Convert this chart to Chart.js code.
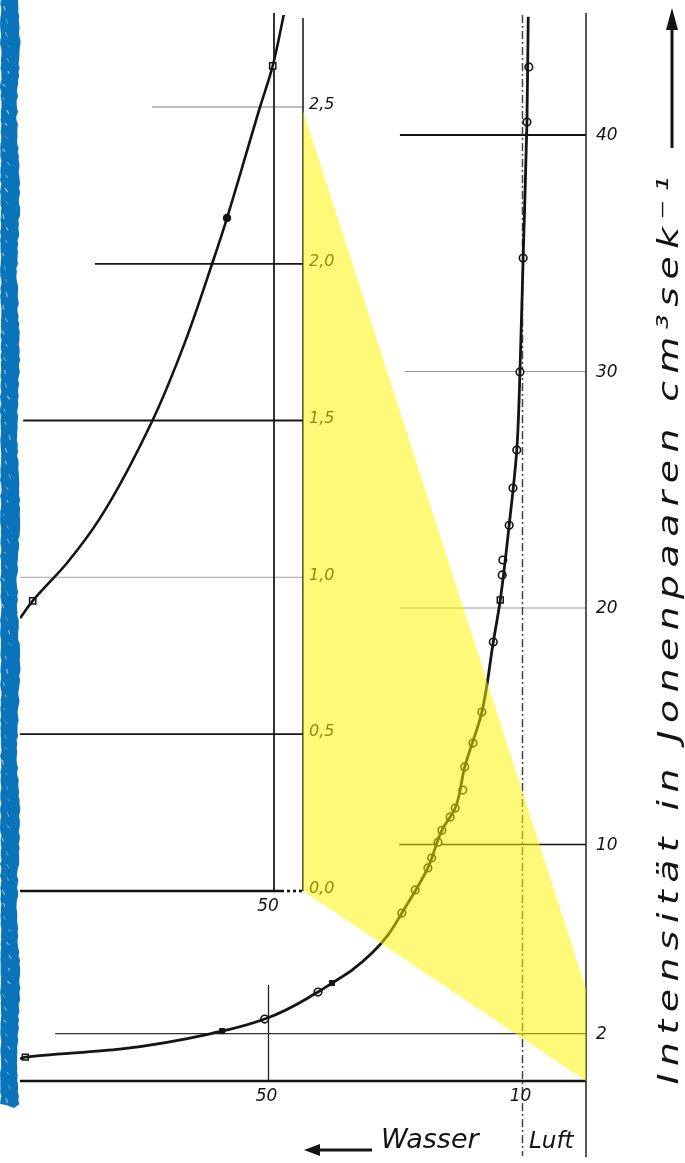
<!DOCTYPE html>
<html lang="de">
<head>
<meta charset="utf-8">
<title>Intensität in Jonenpaaren</title>
<script src="https://cdn.jsdelivr.net/npm/chart.js@4.4.1/dist/chart.umd.min.js"></script>
<style>
  html, body { margin: 0; padding: 0; background: #fff; }
  #chart-wrap { width: 685px; height: 1163px; }
</style>
</head>
<body>
<div id="chart-wrap"><canvas id="myChart" width="685" height="1163"></canvas></div>
<script>
// --- Main curve: Wasser (reversed x) vs Intensität ---
const curveWater     = [89.1, 88.3, 73.4, 57.3, 50.6, 42.2, 40.0, 36.85, 33.7, 31.2, 29.0, 24.9, 22.7, 20.6, 19.1, 16.4, 14.6, 13.5, 12.1, 10.9, 10.4, 9.9, 9.3, 9.1];
const curveIntensity = [0.93, 1.01, 1.35, 2.11, 2.62, 3.76, 4.14, 4.69, 5.41, 6.17, 7.10, 9.01, 10.6, 11.54, 13.28, 15.6, 18.56, 20.34, 23.5, 26.68, 29.98, 34.8, 40.55, 45.0];

// measured points on the main curve
const openCircleWater     = [50.6, 42.2, 29.0, 26.9, 24.9, 24.3, 23.3, 22.7, 21.4, 20.6, 19.4, 19.1, 17.8, 16.4, 14.6, 13.2, 13.1, 12.1, 11.5, 10.9, 10.4, 9.9, 9.3, 9.0];
const openCircleIntensity = [2.62, 3.76, 7.10, 8.08, 9.01, 9.43, 10.1, 10.6, 11.16, 11.54, 12.3, 13.28, 14.29, 15.6, 18.56, 21.4, 22.03, 23.5, 25.07, 26.68, 29.98, 34.8, 40.55, 42.88];
const openSquareWater     = [88.3, 13.5];
const openSquareIntensity = [1.01, 20.34];
const filledWater         = [57.3, 40.0];
const filledIntensity     = [2.11, 4.14];

// --- Inset curve (stretched intensity scale 0,0 ... 2,5) ---
const insetCurveWater     = [90.0, 88.0, 82.6, 77.4, 69.1, 64.0, 59.6, 57.4, 52.2, 50.2, 48.4];
const insetCurveIntensity = [0.87, 0.925, 1.046, 1.189, 1.502, 1.751, 2.009, 2.146, 2.50, 2.631, 2.80];
const insetOpenWater      = [88.0, 50.2];
const insetOpenIntensity  = [0.925, 2.631];
const insetFilledWater    = [57.4];
const insetFilledIntensity = [2.146];

// --- Tick labels ---
const mainTicks       = [2, 10, 20, 30, 40];
const mainTickLabels  = ['2', '10', '20', '30', '40'];
const insetTicks      = [0, 0.5, 1.0, 1.5, 2.0, 2.5];
const insetTickLabels = ['0,0', '0,5', '1,0', '1,5', '2,0', '2,5'];
const waterTicks      = [50, 10];
const waterTickLabels = ['50', '10'];
const insetWaterTicks = [50];
const insetWaterTickLabels = ['50'];

// --- Styles (where each grid line starts, colour, width) ---
const mainGridStyle = [
    { from: 83.6, color: '#333', width: 1.2 },
    { from: 29.4, color: '#111', width: 1.6 },
    { from: 29.3, color: '#9a9a9a', width: 1.2 },
    { from: 28.5, color: '#9a9a9a', width: 1.2 },
    { from: 29.3, color: '#111', width: 1.8 }
];
const insetGridStyle = [
    { from: 90.0, color: '#111', width: 2.6 },
    { from: 90.0, color: '#161616', width: 1.8 },
    { from: 90.0, color: '#b5b5b5', width: 1.4 },
    { from: 89.5, color: '#161616', width: 2.0 },
    { from: 78.2, color: '#161616', width: 1.8 },
    { from: 69.2, color: '#a8a8a8', width: 1.3 }
];
const INK = '#141414';
const HAND_FONT = '"DejaVu Sans", "Liberation Sans", sans-serif';

function strokeLine(ctx, x1, y1, x2, y2, color, width, dash) {
    ctx.save();
    ctx.strokeStyle = color;
    ctx.lineWidth = width;
    ctx.setLineDash(dash || []);
    ctx.beginPath();
    ctx.moveTo(x1, y1);
    ctx.lineTo(x2, y2);
    ctx.stroke();
    ctx.restore();
}

function toPoints(xs, ys) {
    return xs.map((v, i) => ({ x: v, y: ys[i] }));
}

// cheap repeatable noise for the painted margin
function noise(n) {
    const s = Math.sin(n * 12.9898) * 43758.5453;
    return s - Math.floor(s);
}

// --- Decorations: grid, axes, labels, highlight, border ---
const figureDecor = {
    id: 'figureDecor',
    beforeDatasetsDraw(chart) {
        const { ctx, chartArea: area, scales: { x, y, x2, y2 } } = chart;
        const axisX = x.getPixelForValue(0);
        const insetAxisX = x2.getPixelForValue(45.43);

        // main grid
        mainTicks.forEach((t, i) => {
            const g = mainGridStyle[i];
            const py = y.getPixelForValue(t);
            strokeLine(ctx, x.getPixelForValue(g.from), py, axisX, py, g.color, g.width);
        });
        // inset grid
        insetTicks.forEach((t, i) => {
            const g = insetGridStyle[i];
            const py = y2.getPixelForValue(t);
            if (t === 0) {
                strokeLine(ctx, x2.getPixelForValue(g.from), py, x2.getPixelForValue(48.9), py, g.color, g.width);
                strokeLine(ctx, x2.getPixelForValue(48.9), py, insetAxisX, py, g.color, g.width, [3, 3]);
            } else {
                strokeLine(ctx, x2.getPixelForValue(g.from), py, insetAxisX, py, g.color, g.width);
            }
        });

        // main axes
        strokeLine(ctx, area.left, y.getPixelForValue(0), axisX, y.getPixelForValue(0), INK, 2.6);
        strokeLine(ctx, axisX, area.top - 2, axisX, 1157, '#222', 1.5);
        strokeLine(ctx, x.getPixelForValue(10), area.top, x.getPixelForValue(10), 1156, '#444', 1.5, [8, 3, 2, 3]);
        strokeLine(ctx, x.getPixelForValue(50), y.getPixelForValue(4.06), x.getPixelForValue(50), y.getPixelForValue(0), '#222', 1.3);

        // inset axes
        strokeLine(ctx, insetAxisX, area.top + 3, insetAxisX, y2.getPixelForValue(0), '#222', 1.6);
        insetWaterTicks.forEach(t => {
            strokeLine(ctx, x2.getPixelForValue(t), area.top - 2, x2.getPixelForValue(t), y2.getPixelForValue(0), '#1a1a1a', 1.8);
        });
    },
    afterDatasetsDraw(chart) {
        const { ctx, scales: { x, y, x2, y2 } } = chart;
        const axisX = x.getPixelForValue(0);
        const insetAxisX = x2.getPixelForValue(45.43);
        ctx.save();
        ctx.fillStyle = INK;
        ctx.textBaseline = 'middle';

        ctx.font = 'italic 17px ' + HAND_FONT;
        ctx.textAlign = 'left';
        mainTicks.forEach((t, i) => ctx.fillText(mainTickLabels[i], axisX + 10, y.getPixelForValue(t) + 1));
        ctx.font = 'italic 16px ' + HAND_FONT;
        insetTicks.forEach((t, i) => ctx.fillText(insetTickLabels[i], insetAxisX + 6, y2.getPixelForValue(t) - 2));

        ctx.font = 'italic 17px ' + HAND_FONT;
        ctx.textAlign = 'center';
        waterTicks.forEach((t, i) => ctx.fillText(waterTickLabels[i], x.getPixelForValue(t) - 2, y.getPixelForValue(0) + 16));
        insetWaterTicks.forEach((t, i) => ctx.fillText(insetWaterTickLabels[i], x2.getPixelForValue(t) - 6, y2.getPixelForValue(0) + 16));

        // bottom caption: <-- Wasser   Luft
        ctx.textAlign = 'left';
        ctx.font = 'italic 27px ' + HAND_FONT;
        ctx.fillText('Wasser', 381, 1141);
        ctx.font = 'italic 23px ' + HAND_FONT;
        ctx.fillText('Luft', 529, 1142);
        strokeLine(ctx, 318, 1150, 372, 1150, INK, 3);
        ctx.beginPath();
        ctx.moveTo(304, 1150); ctx.lineTo(320, 1144); ctx.lineTo(320, 1156); ctx.closePath();
        ctx.fill();

        // rotated axis title, stretched like the hand lettering
        const title = 'Intensität in Jonenpaaren cm³sek⁻¹';
        const span = 915;
        ctx.save();
        ctx.translate(670, 627);
        ctx.rotate(-Math.PI / 2);
        ctx.font = 'italic 29px ' + HAND_FONT;
        const w = ctx.measureText(title).width;
        const sx = Math.min(1.3, span / w);
        ctx.scale(sx, 1);
        if ('letterSpacing' in ctx) {
            ctx.letterSpacing = Math.max(0, (span / sx - w) / title.length) + 'px';
        }
        ctx.textAlign = 'center';
        ctx.fillText(title, 0, 0);
        ctx.restore();
        strokeLine(ctx, 672, 148, 672, 28, INK, 3);
        ctx.beginPath();
        ctx.moveTo(672, 8); ctx.lineTo(666, 30); ctx.lineTo(678, 30); ctx.closePath();
        ctx.fill();
        ctx.restore();
    },
    afterDraw(chart) {
        const { ctx, scales: { x, y, x2, y2 } } = chart;
        const insetAxisX = x2.getPixelForValue(45.43);

        // yellow zoom highlight between inset axis and main axis
        ctx.save();
        ctx.fillStyle = 'rgba(255, 244, 0, 0.52)';
        ctx.beginPath();
        ctx.moveTo(insetAxisX, y2.getPixelForValue(2.49));
        ctx.lineTo(x.getPixelForValue(0), y.getPixelForValue(3.9));
        ctx.lineTo(x.getPixelForValue(0), y.getPixelForValue(0));
        ctx.lineTo(insetAxisX, y2.getPixelForValue(0));
        ctx.closePath();
        ctx.fill();

        // ragged blue margin
        ctx.fillStyle = '#0a74bb';
        ctx.beginPath();
        ctx.moveTo(1, 0);
        for (let yy = 0; yy <= 1104; yy += 4) {
            ctx.lineTo(17.5 + 1.2 * Math.sin(yy * 0.04) + 1.8 * noise(yy + 0.5), yy);
        }
        ctx.lineTo(14, 1108);
        ctx.lineTo(6, 1105);
        for (let yy = 1104; yy >= 0; yy -= 4) {
            ctx.lineTo(1.5 * noise(yy + 7.3), yy);
        }
        ctx.closePath();
        ctx.fill();
        ctx.strokeStyle = 'rgba(255,255,255,0.55)';
        for (let yy = 6; yy < 1100; yy += 13) {
            const sx = 2 + 7 * noise(yy * 0.7);
            ctx.lineWidth = 0.5 + 0.8 * noise(yy * 1.3);
            ctx.beginPath();
            ctx.moveTo(sx, yy);
            ctx.lineTo(sx + 1 + 2 * noise(yy * 2.1), yy + 2 + 3 * noise(yy * 3.7));
            ctx.stroke();
        }
        ctx.restore();
    }
};

// --- Chart ---
const xPerPx = 1 / 6.35;
const chartCanvas = document.getElementById('myChart');

const myChart = new Chart(chartCanvas, {
    type: 'scatter',
    data: {
        datasets: [
            {
                data: toPoints(curveWater, curveIntensity),
                showLine: true, indexAxis: 'y', cubicInterpolationMode: 'monotone',
                borderColor: INK, borderWidth: 2.8,
                pointRadius: 0, xAxisID: 'x', yAxisID: 'y'
            },
            {
                data: toPoints(insetCurveWater, insetCurveIntensity),
                showLine: true, indexAxis: 'y', cubicInterpolationMode: 'monotone',
                borderColor: INK, borderWidth: 2.6,
                pointRadius: 0, xAxisID: 'x2', yAxisID: 'y2'
            },
            {
                data: toPoints(openCircleWater, openCircleIntensity),
                pointStyle: 'circle', pointRadius: 3.8, backgroundColor: '#fff',
                borderColor: INK, borderWidth: 1.6, xAxisID: 'x', yAxisID: 'y'
            },
            {
                data: toPoints(openSquareWater, openSquareIntensity),
                pointStyle: 'rect', pointRadius: 4.2, backgroundColor: '#fff',
                borderColor: INK, borderWidth: 1.5, xAxisID: 'x', yAxisID: 'y'
            },
            {
                data: toPoints(filledWater, filledIntensity),
                pointStyle: 'rect', pointRadius: 3.6, backgroundColor: INK,
                borderColor: INK, borderWidth: 1, xAxisID: 'x', yAxisID: 'y'
            },
            {
                data: toPoints(insetOpenWater, insetOpenIntensity),
                pointStyle: 'rect', pointRadius: 4.4, backgroundColor: '#fff',
                borderColor: INK, borderWidth: 1.5, xAxisID: 'x2', yAxisID: 'y2'
            },
            {
                data: toPoints(insetFilledWater, insetFilledIntensity),
                pointStyle: 'circle', pointRadius: 3.8, backgroundColor: INK,
                borderColor: INK, borderWidth: 1, xAxisID: 'x2', yAxisID: 'y2'
            }
        ]
    },
    options: {
        responsive: false,
        animation: false,
        devicePixelRatio: 1,
        layout: { padding: { left: 20, right: 99, top: 15, bottom: 82 } },
        plugins: {
            legend: { display: false },
            tooltip: { enabled: false }
        },
        scales: {
            x:  { type: 'linear', reverse: true, display: false, min: 0, max: 566 * xPerPx },
            x2: { type: 'linear', reverse: true, display: false, min: 50 - 312 * xPerPx, max: 50 + 254 * xPerPx },
            y:  { type: 'linear', display: false, min: 0, max: 1066 / 23.65 },
            y2: { type: 'linear', display: false, min: -190 / 313.6, max: 876 / 313.6 }
        }
    },
    plugins: [figureDecor]
});
</script>
</body>
</html>
